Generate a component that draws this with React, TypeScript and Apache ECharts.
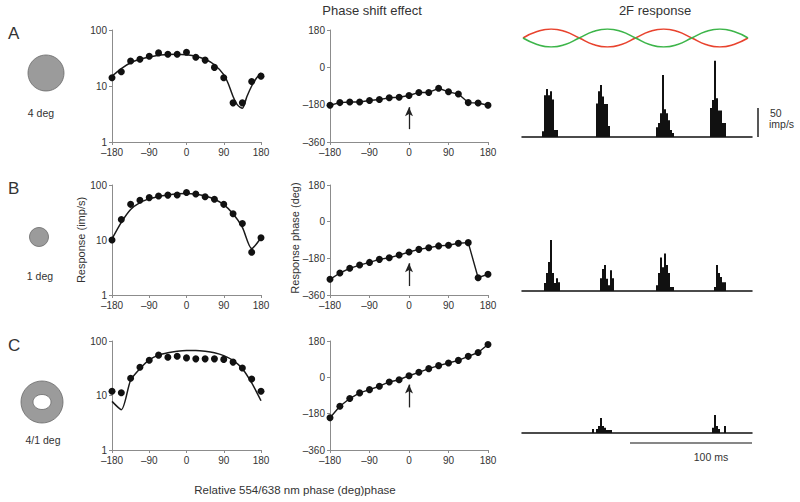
import React, { useEffect, useRef } from "react";
import * as echarts from "echarts";

// ---------- data ----------
const phases = [-180, -157.5, -135, -112.5, -90, -67.5, -45, -22.5, 0, 22.5, 45, 67.5, 90, 112.5, 135, 157.5, 180];

const respA = [14, 18, 28, 30, 34, 39, 37, 37, 40, 32.5, 29, 21.5, 14, 5, 5, 12, 15];
const respB = [10, 23.5, 44.5, 53, 59, 63, 65.5, 66, 73, 68.5, 61, 55, 44.5, 30, 20, 6, 11];
const respC = [12, 11.2, 20.8, 33, 44.5, 55, 50.4, 52.6, 49, 47, 47, 47, 46, 41, 32, 20, 12];

const fitXA = [-180, -157.5, -135, -112.5, -90, -67.5, -45, -22.5, 0, 22.5, 45, 67.5, 90, 101, 112.5, 123, 135, 146, 157.5, 168, 180];
const fitA = [15, 20.5, 26, 30, 33, 35.5, 36.5, 37, 36, 34, 30, 24, 16, 11, 6.5, 4.6, 4.0, 6.5, 10, 13.5, 17];
const fitB = [10.5, 21, 36, 48, 56, 62, 66, 69, 70, 68, 63, 55, 44, 30, 17, 7, 11];
const fitC = [7.8, 5.5, 19, 31, 45, 55, 61, 65, 67, 67, 65, 61, 54, 44, 31, 17, 8];

const phaseA = [-183, -170, -167, -167, -160, -155, -147, -144, -136, -121, -121, -101, -118, -129, -170, -172, -183];
const phaseB = [-283, -252, -229, -213, -200, -185, -177, -164, -149, -136, -128, -119, -116, -106, -103, -275, -258];
const phaseC = [-200, -143, -105, -77, -61, -44, -23, -12, 8, 25, 43, 58, 71, 84, 104, 123, 163];

const arrowA = [-298, -192];
const arrowB = [-316, -204];
const arrowC = [-149, -36];

const logTicks = [1, 10, 100];
const phaseTicks = [-360, -180, 0, 180];

// histogram (2F response), bins of equal width, values in imp/s
const nBins = 115;
const binMs = 1.64;
const histAStarts = [10, 37, 67, 94];
const histAHeights = [
  [10, 72, 83, 72, 79, 65, 12, 12],
  [58, 79, 90, 70, 57, 57, 19],
  [17, 24, 41, 107, 48, 41, 29, 12, 7],
  [50, 64, 132, 67, 46, 46, 24, 24],
];
const histBStarts = [11, 39, 67, 96];
const histBHeights = [
  [14, 31, 50, 88, 31, 14, 22, 15],
  [22, 38, 45, 21, 10, 36, 22],
  [10, 31, 58, 41, 65, 45, 31, 7, 7],
  [7, 45, 31, 24, 15, 15],
];
const histCStarts = [35, 95];
const histCHeights = [
  [7, 0, 7, 12, 26, 12, 9, 5, 5, 5],
  [9, 31, 12, 7, 0, 0, 12],
];

// stimulus waveforms (two cycles, sampled every 45 deg)
const redWave = [0, 0.71, 1, 0.71, 0, -0.71, -1, -0.71, 0, 0.71, 1, 0.71, 0, -0.71, -1, -0.71, 0];
const greenWave = [0, -0.71, -1, -0.71, 0, 0.71, 1, 0.71, 0, -0.71, -1, -0.71, 0, 0.71, 1, 0.71, 0];

const scaleImp = 50;
const scaleMs = 100;

// ---------- helpers ----------
const FONT = "'Liberation Sans', Arial, Helvetica, sans-serif";
const AXIS_COLOR = "#8c8c8c";
const LABEL_COLOR = "#333";

const dash = (v: number) => (v < 0 ? "\u2013" + -v : String(v));

function buildHist(starts: number[], heights: number[][]) {
  const arr = new Array(nBins).fill(0);
  starts.forEach((s, i) => heights[i].forEach((h, j) => (arr[s + j] = h)));
  return arr;
}

const zip = (xs: number[], ys: number[]) => xs.map((x, i) => [x, ys[i]]);

function phaseXAxis(gridIndex: number) {
  return {
    type: "value",
    gridIndex,
    min: -180,
    max: 180,
    interval: 90,
    axisLine: { show: true, onZero: false, lineStyle: { color: AXIS_COLOR, width: 1 } },
    axisTick: { show: true, length: 3, lineStyle: { color: AXIS_COLOR } },
    axisLabel: { fontSize: 10, color: LABEL_COLOR, margin: 5, fontFamily: FONT, formatter: dash },
    splitLine: { show: false },
  };
}

function logYAxis(gridIndex: number) {
  return {
    type: "log",
    logBase: 10,
    gridIndex,
    min: logTicks[0],
    max: logTicks[logTicks.length - 1],
    axisLine: { show: true, onZero: false, lineStyle: { color: AXIS_COLOR, width: 1 } },
    axisTick: { show: true, length: 3, lineStyle: { color: AXIS_COLOR } },
    axisLabel: { fontSize: 10, color: LABEL_COLOR, margin: 5, fontFamily: FONT },
    splitLine: { show: false },
    minorTick: { show: false },
  };
}

function phaseYAxis(gridIndex: number) {
  return {
    type: "value",
    gridIndex,
    min: phaseTicks[0],
    max: phaseTicks[phaseTicks.length - 1],
    interval: 180,
    axisLine: { show: true, onZero: false, lineStyle: { color: AXIS_COLOR, width: 1 } },
    axisTick: { show: true, length: 3, lineStyle: { color: AXIS_COLOR } },
    axisLabel: { fontSize: 10, color: LABEL_COLOR, margin: 5, fontFamily: FONT, formatter: dash },
    splitLine: { show: false },
  };
}

const binCats = Array.from({ length: nBins }, (_, i) => String(i));

function histXAxis(gridIndex: number) {
  return {
    type: "category",
    gridIndex,
    data: binCats,
    boundaryGap: true,
    axisLine: { show: true, lineStyle: { color: "#111", width: 1.5 } },
    axisTick: { show: false },
    axisLabel: { show: false },
    splitLine: { show: false },
  };
}

function histYAxis(gridIndex: number) {
  return { type: "value", gridIndex, min: 0, max: 140, show: false, splitLine: { show: false } };
}

function scatterSeries(idx: number, ys: number[]) {
  return {
    type: "scatter",
    xAxisIndex: idx,
    yAxisIndex: idx,
    data: zip(phases, ys),
    symbol: "circle",
    symbolSize: 7,
    itemStyle: { color: "#111", opacity: 1 },
    z: 3,
  };
}

function fitSeries(idx: number, xs: number[], ys: number[]) {
  return {
    type: "line",
    xAxisIndex: idx,
    yAxisIndex: idx,
    data: zip(xs, ys),
    showSymbol: false,
    symbol: "none",
    smooth: 0.25,
    lineStyle: { color: "#1a1a1a", width: 1.5 },
    z: 2,
  };
}

function phaseSeries(idx: number, ys: number[], arrow: number[]) {
  return {
    type: "line",
    xAxisIndex: idx,
    yAxisIndex: idx,
    data: zip(phases, ys),
    symbol: "circle",
    symbolSize: 7,
    showSymbol: true,
    itemStyle: { color: "#111", opacity: 1 },
    lineStyle: { color: "#1a1a1a", width: 1.4 },
    markLine: {
      silent: true,
      symbol: ["none", "arrow"],
      symbolSize: [6, 9],
      label: { show: false },
      lineStyle: { color: "#222", width: 1.3, type: "solid" },
      data: [[{ coord: [0, arrow[0]] }, { coord: [0, arrow[1]] }]],
    },
  };
}

function histSeries(idx: number, data: number[]) {
  return {
    type: "bar",
    xAxisIndex: idx,
    yAxisIndex: idx,
    data,
    barCategoryGap: "0%",
    barGap: "0%",
    itemStyle: { color: "#111" },
  };
}

function txt(text: string, x: number, y: number, size: number, align = "left", extra: any = {}) {
  return {
    type: "text",
    x,
    y,
    silent: true,
    ...extra,
    style: {
      text,
      fontSize: size,
      fontFamily: FONT,
      fill: "#333",
      align,
      textAlign: align,
      verticalAlign: "middle",
      textVerticalAlign: "middle",
    },
  };
}

export default function App() {
  const ref = useRef<HTMLDivElement>(null);

  useEffect(() => {
    document.body.style.margin = "0";
    const chart = echarts.init(ref.current as HTMLDivElement, null, { renderer: "svg" });

    const grids = [
      { left: 112, top: 30, width: 149, height: 112 },
      { left: 330, top: 30, width: 158, height: 112 },
      { left: 112, top: 185, width: 149, height: 110 },
      { left: 330, top: 185, width: 158, height: 110 },
      { left: 112, top: 341, width: 149, height: 109 },
      { left: 330, top: 341, width: 158, height: 109 },
      { left: 523, top: 29, width: 225, height: 18 },
      { left: 522, top: 56, width: 230, height: 81 },
      { left: 522, top: 210, width: 230, height: 81 },
      { left: 522, top: 352, width: 230, height: 81 },
    ];

    const option: any = {
      animation: false,
      backgroundColor: "#fff",
      textStyle: { fontFamily: FONT },
      grid: grids.map((g) => ({ ...g, containLabel: false })),
      xAxis: [
        phaseXAxis(0),
        phaseXAxis(1),
        phaseXAxis(2),
        phaseXAxis(3),
        phaseXAxis(4),
        phaseXAxis(5),
        { type: "value", gridIndex: 6, min: 0, max: redWave.length - 1, show: false },
        histXAxis(7),
        histXAxis(8),
        histXAxis(9),
      ],
      yAxis: [
        logYAxis(0),
        phaseYAxis(1),
        logYAxis(2),
        phaseYAxis(3),
        logYAxis(4),
        phaseYAxis(5),
        { type: "value", gridIndex: 6, min: -1, max: 1, show: false },
        histYAxis(7),
        histYAxis(8),
        histYAxis(9),
      ],
      series: [
        fitSeries(0, fitXA, fitA),
        scatterSeries(0, respA),
        phaseSeries(1, phaseA, arrowA),
        fitSeries(2, phases, fitB),
        scatterSeries(2, respB),
        phaseSeries(3, phaseB, arrowB),
        fitSeries(4, phases, fitC),
        scatterSeries(4, respC),
        phaseSeries(5, phaseC, arrowC),
        {
          type: "line",
          xAxisIndex: 6,
          yAxisIndex: 6,
          data: redWave.map((v, i) => [i, v]),
          smooth: true,
          showSymbol: false,
          symbol: "none",
          lineStyle: { color: "#e8432e", width: 1.6 },
        },
        {
          type: "line",
          xAxisIndex: 6,
          yAxisIndex: 6,
          data: greenWave.map((v, i) => [i, v]),
          smooth: true,
          showSymbol: false,
          symbol: "none",
          lineStyle: { color: "#3db54a", width: 1.6 },
        },
        histSeries(7, buildHist(histAStarts, histAHeights)),
        histSeries(8, buildHist(histBStarts, histBHeights)),
        histSeries(9, buildHist(histCStarts, histCHeights)),
      ],
    };

    chart.setOption(option);

    // scale bars derived from the histogram axes
    const y0 = chart.convertToPixel({ yAxisIndex: 7 }, 0) as number;
    const y50 = chart.convertToPixel({ yAxisIndex: 7 }, scaleImp) as number;
    const lastBinX = chart.convertToPixel({ xAxisIndex: 9 }, nBins - 1) as number;
    const binW = 230 / nBins;
    const rightEdge = lastBinX + binW / 2;
    const msBins = Math.round(scaleMs / binMs);
    const leftEdge = rightEdge - msBins * binW;
    const cBase = chart.convertToPixel({ yAxisIndex: 9 }, 0) as number;
    const barX = rightEdge + 6;

    const graphic: any[] = [
      txt("Phase shift effect", 372, 10, 13, "center"),
      txt("2F response", 655, 10, 13, "center"),
      txt("A", 8, 33, 17),
      txt("B", 8, 188, 17),
      txt("C", 8, 345, 17),
      {
        type: "circle",
        silent: true,
        shape: { cx: 46, cy: 73, r: 18 },
        style: { fill: "#9b9b9b", stroke: "#6a6a6a", lineWidth: 0.8 },
      },
      txt("4 deg", 41, 113, 10.5, "center"),
      {
        type: "circle",
        silent: true,
        shape: { cx: 39, cy: 237, r: 9.5 },
        style: { fill: "#9b9b9b", stroke: "#6a6a6a", lineWidth: 0.8 },
      },
      txt("1 deg", 40, 276, 10.5, "center"),
      {
        type: "circle",
        silent: true,
        shape: { cx: 42, cy: 402, r: 21 },
        style: { fill: "#9b9b9b", stroke: "#6a6a6a", lineWidth: 0.8 },
      },
      {
        type: "ellipse",
        silent: true,
        shape: { cx: 42, cy: 402, rx: 9, ry: 7.5 },
        style: { fill: "#fff", stroke: "#6a6a6a", lineWidth: 0.8 },
      },
      txt("4/1 deg", 43, 440, 10.5, "center"),
      txt("Response (imp/s)", 81, 240, 11, "center", { rotation: Math.PI / 2 }),
      txt("Response phase (deg)", 295, 238, 11, "center", { rotation: Math.PI / 2 }),
      txt("Relative 554/638 nm phase (deg)phase", 295, 490, 11.5, "center"),
      {
        type: "line",
        silent: true,
        shape: { x1: barX, y1: y0, x2: barX, y2: y50 },
        style: { stroke: "#111", lineWidth: 1.4 },
      },
      txt("50", 770, 113, 10.5),
      txt("imp/s", 769, 124, 10.5),
      {
        type: "line",
        silent: true,
        shape: { x1: leftEdge, y1: cBase + 10, x2: rightEdge, y2: cBase + 10 },
        style: { stroke: "#111", lineWidth: 1.2 },
      },
      txt("100 ms", 711, 457, 10.5, "center"),
    ];

    chart.setOption({ graphic: { elements: graphic } });

    return () => chart.dispose();
  }, []);

  return (
    <div
      ref={ref}
      style={{ position: "absolute", left: 0, top: 0, width: 800, height: 502, background: "#fff" }}
    />
  );
}
